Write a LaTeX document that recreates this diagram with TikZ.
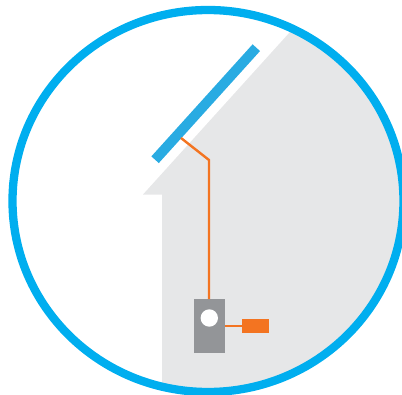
\documentclass[tikz,border=0pt]{standalone}
\definecolor{ringblue}{HTML}{00AEEF}
\definecolor{panelblue}{HTML}{29ABE2}
\definecolor{wireorange}{HTML}{F37421}
\definecolor{boxgrey}{HTML}{939598}
\definecolor{housegrey}{HTML}{E6E7E8}
\tikzset{
  wire/.style={draw=wireorange,line width=2.4pt},
  meterbox/.style={rectangle,fill=boxgrey,draw=none,minimum width=31pt,minimum height=54pt,inner sep=0pt,outer sep=0pt},
  meterdial/.style={circle,fill=white,draw=none,minimum size=17.4pt,inner sep=0pt,outer sep=0pt},
  loadbox/.style={rectangle,fill=wireorange,draw=none,minimum width=27pt,minimum height=14pt,inner sep=0pt,outer sep=0pt},
  panelbar/.style={rectangle,fill=panelblue,draw=none,minimum width=151pt,minimum height=10pt,inner sep=0pt,outer sep=0pt,rotate=47.9}
}
\begin{document}
\begin{tikzpicture}[x=1pt,y=-1pt]
\useasboundingbox (0,0) rectangle (402,394);
\clip (0,0) rectangle (402,394);
\begin{scope}
\clip (208,201) ellipse [x radius=195.5pt,y radius=191pt];
\fill[housegrey] (143,194.5) -- (162,194.5) -- (162,400) -- (410,400) -- (410,-20) -- (339,-20) -- (290,32) -- cycle;
\end{scope}
\draw[ringblue,line width=8.3pt] (208,201) ellipse [x radius=195.5pt,y radius=191pt];
\node[panelbar] (panel) at (205.7,103.7) {};
\node[meterbox] (meter) at (209.5,326) {};
\node[meterdial] (dial) at (209.3,318) {};
\node[loadbox] (load) at (255.5,326) {};
\coordinate (tap) at (181,138);
\coordinate (bend) at (209,160);
\draw[wire,line join=miter] (tap) -- (bend) -- (bend |- meter.north);
\draw[wire] (meter.east |- load.west) -- (load.west);
\end{tikzpicture}
\end{document}
